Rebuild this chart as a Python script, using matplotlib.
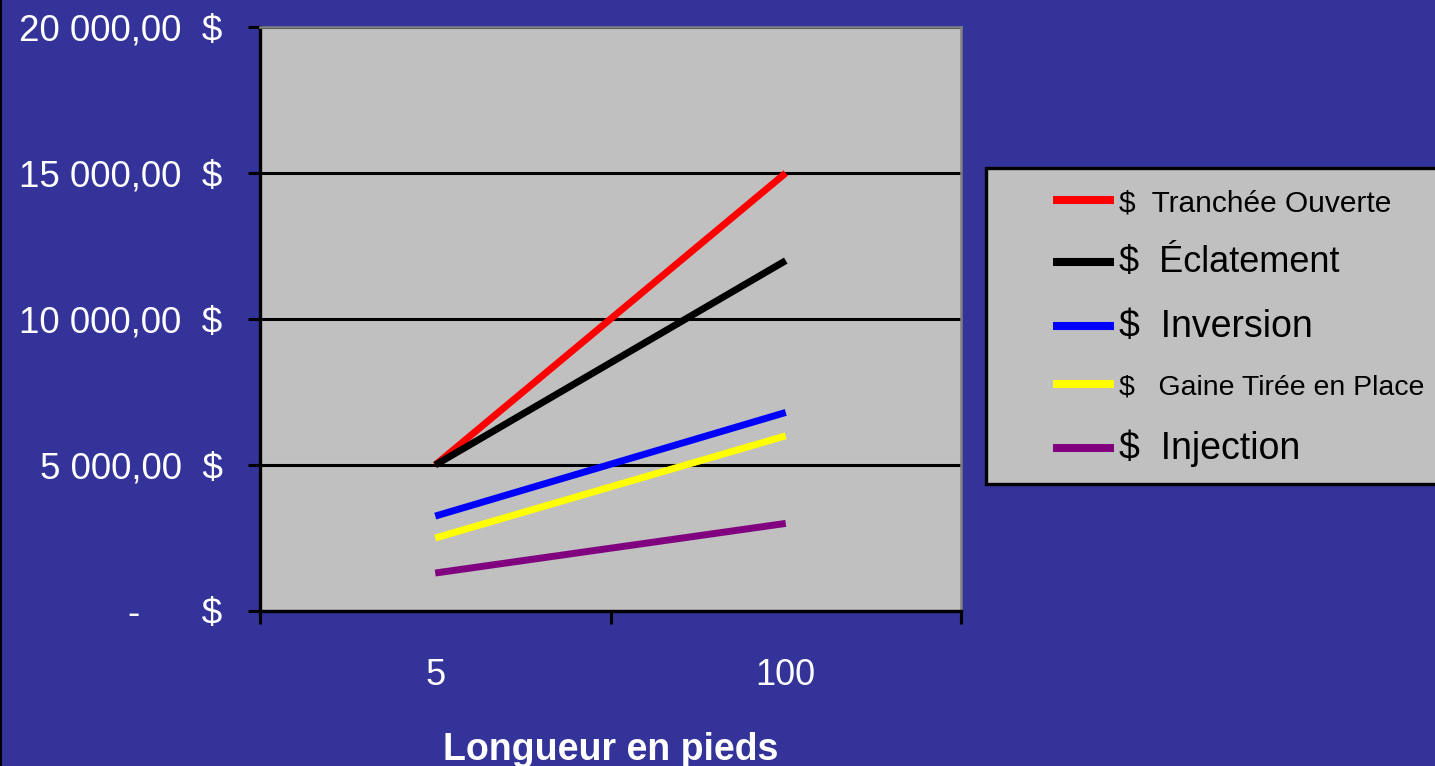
import matplotlib
matplotlib.use("Agg")
import matplotlib.pyplot as plt
from matplotlib import font_manager
from matplotlib.lines import Line2D
from matplotlib.patches import Rectangle
from matplotlib.ticker import FixedLocator, FuncFormatter

# Data
lengths = ["5", "100"]
tranchee = [5000, 15000]
eclatement = [5000, 12000]
inversion = [3250, 6800]
gaine = [2500, 6000]
injection = [1300, 3000]

series_labels = ["$  Tranchée Ouverte", "$  Éclatement", "$  Inversion",
                 "$   Gaine Tirée en Place", "$  Injection"]
series_colors = ["#FF0000", "#000000", "#0000FF", "#FFFF00", "#800080"]
legend_sizes = [21.5, 26, 27, 20.5, 27]
y_ticks = [0, 5000, 10000, 15000, 20000]

installed = {f.name for f in font_manager.fontManager.ttflist}
narrow = "Liberation Sans Narrow" if "Liberation Sans Narrow" in installed else None
regular = "Liberation Sans"
axis_font = narrow or regular
# condensed face allows bigger type in the same width
tick_size_y = 31 if narrow else 26.5
tick_size_x = 30 if narrow else 26
title_size = 30 if narrow else 27

BG = "#333399"
PLOT_BG = "#C0C0C0"

fig = plt.figure(figsize=(14.35, 7.66), dpi=100, facecolor=BG)
ax = fig.add_axes([260 / 1435, 1 - 611 / 766, 701 / 1435, 584 / 766])
ax.set_facecolor(PLOT_BG)

x = list(range(len(lengths)))
for vals, col, lab in zip([tranchee, eclatement, inversion, gaine, injection],
                          series_colors, series_labels):
    ax.plot(x, vals, color=col, lw=5, solid_capstyle="butt", label=lab, zorder=3)

ax.set_xlim(-0.5, len(lengths) - 0.5)
ax.set_ylim(0, 20000)

# category axis: tick marks between categories, labels centred on them
ax.xaxis.set_major_locator(FixedLocator([i - 0.5 for i in range(len(lengths) + 1)]))
ax.xaxis.set_major_formatter(FuncFormatter(lambda v, p: ""))
ax.xaxis.set_minor_locator(FixedLocator(x))
ax.xaxis.set_minor_formatter(FuncFormatter(lambda v, p: lengths[int(round(v))]))
ax.tick_params(axis="x", which="major", length=9.4, width=2.2, color="black", direction="out")
ax.tick_params(axis="x", which="minor", length=0, pad=34, labelsize=tick_size_x,
               labelcolor="white")


def money(v, pos):
    if v == 0:
        return "-      $"
    s = f"{v:,.2f}".replace(",", " ").replace(".", ",")
    return s + "  $"


ax.yaxis.set_major_locator(FixedLocator(y_ticks))
ax.yaxis.set_major_formatter(FuncFormatter(money))
ax.tick_params(axis="y", length=9, width=2.2, color="black", direction="out",
               pad=18, labelsize=tick_size_y, labelcolor="white")
for t in ax.get_xticklabels(minor=True) + ax.get_yticklabels():
    t.set_fontfamily(axis_font)

ax.yaxis.grid(True, color="black", lw=2.2)
ax.set_axisbelow(True)

for side in ("left", "bottom"):
    ax.spines[side].set_color("black")
    ax.spines[side].set_linewidth(2.4)
for side in ("top", "right"):
    ax.spines[side].set_color("#808080")
    ax.spines[side].set_linewidth(1.8)

ax.set_xlabel("Longueur en pieds", fontsize=title_size, fontweight="bold", color="white",
              fontfamily=axis_font, labelpad=28)

# thin dark rule along the left edge of the figure
fig.add_artist(Line2D([0.7 / 1435, 0.7 / 1435], [0, 1], transform=fig.transFigure,
                      color="black", lw=1.5))

# legend box
fig.patches.append(Rectangle((986 / 1435, 1 - 484 / 766), 460 / 1435, 316 / 766,
                             transform=fig.transFigure, facecolor=PLOT_BG,
                             edgecolor="black", lw=2.4, zorder=0))
leg = fig.legend(loc="upper left", bbox_to_anchor=(1053 / 1435, 1 - 189 / 766),
                 frameon=False, handlelength=2.0, handletextpad=0.15,
                 labelspacing=0.93, borderpad=0, borderaxespad=0,
                 prop={"family": regular, "size": 22})
for txt, sz in zip(leg.get_texts(), legend_sizes):
    txt.set_fontsize(sz)
    txt.set_color("black")
for h in leg.get_lines():
    h.set_linewidth(5.8)

fig.savefig("out.png", dpi=100, facecolor=BG)
